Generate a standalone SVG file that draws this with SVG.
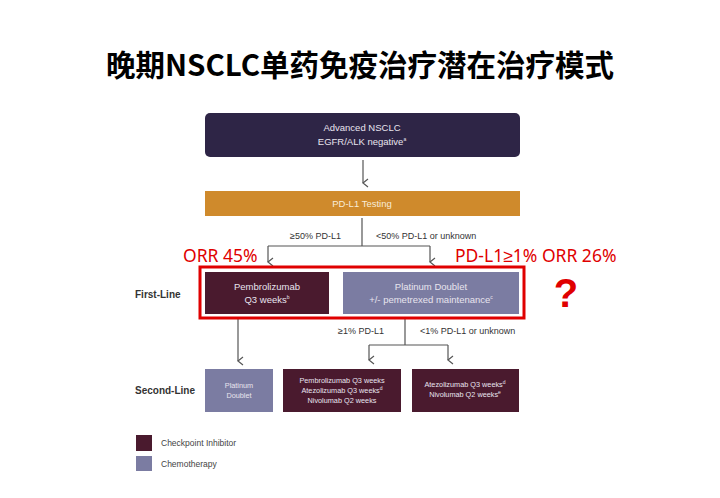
<svg xmlns="http://www.w3.org/2000/svg" width="720" height="498" viewBox="0 0 720 498">
<style>
.t{font-family:"Liberation Sans",Arial,sans-serif}
.w{fill:#e8e4ee;font-size:9.5px;text-anchor:middle}
.sm{font-size:7.3px}
.s{fill:#333;font-size:9px}
.lb{fill:#333;font-size:10px;font-weight:bold}
.r{fill:#e00000;font-family:"Noto Sans","Liberation Sans",sans-serif;font-size:17.5px}
.ci{fill:#4a1a2e}.ch{fill:#7b7ca2}
.ln{stroke:#555;stroke-width:1.2;fill:none}
</style>
<defs><marker id="a" markerWidth="10" markerHeight="10" refX="5" refY="8" orient="auto" markerUnits="userSpaceOnUse"><path d="M1,3 L5,8 L9,3" fill="none" stroke="#555" stroke-width="1.2"/></marker></defs>
<rect width="720" height="498" fill="#fff"/>
<text x="360" y="76" text-anchor="middle" font-family="'Noto Sans CJK SC',sans-serif" font-size="29.5" font-weight="bold" fill="#000">晚期NSCLC单药免疫治疗潜在治疗模式</text>
<g id="advanced"><rect x="205" y="113" width="315" height="44" rx="5" fill="#2e2546"/>
<text class="t w" x="362" y="131">Advanced NSCLC</text><text class="t w" x="362" y="145">EGFR/ALK negative<tspan font-size="5" dy="-4">a</tspan></text></g>
<g id="testing"><rect x="205" y="191" width="315" height="25" fill="#cf8a2c"/><text class="t w" x="362" y="207" style="fill:#f8ecd8">PD-L1 Testing</text></g>
<g id="pembro"><rect x="205" y="272" width="124" height="42" class="ci"/><text class="t w" x="267" y="290">Pembrolizumab</text><text class="t w" x="267" y="303">Q3 weeks<tspan font-size="5" dy="-4">b</tspan></text></g>
<g id="platinum1"><rect x="343" y="272" width="176" height="42" class="ch"/><text class="t w" x="431" y="290">Platinum Doublet</text><text class="t w" x="431" y="303">+/- pemetrexed maintenance<tspan font-size="5" dy="-4">c</tspan></text></g>
<g id="platinum2"><rect x="205" y="369" width="68" height="43" class="ch"/><text class="t w sm" x="239" y="388">Platinum</text><text class="t w sm" x="239" y="398">Doublet</text></g>
<g id="ici1"><rect x="283" y="369" width="118" height="43" class="ci"/><text class="t w sm" x="342" y="383">Pembrolizumab Q3 weeks</text><text class="t w sm" x="342" y="393">Atezolizumab Q3 weeks<tspan font-size="5" dy="-3">d</tspan></text><text class="t w sm" x="342" y="403">Nivolumab Q2 weeks</text></g>
<g id="ici2"><rect x="412" y="369" width="107" height="43" class="ci"/><text class="t w sm" x="465" y="387">Atezolizumab Q3 weeks<tspan font-size="5" dy="-3">d</tspan></text><text class="t w sm" x="465" y="397">Nivolumab Q2 weeks<tspan font-size="5" dy="-3">e</tspan></text></g>
<g id="connectors">
<path class="ln" d="M363,160 V183" marker-end="url(#a)"/>
<path class="ln" d="M362,218 V246 M268,246 H430"/>
<path class="ln" d="M268,246 V262" marker-end="url(#a)"/><path class="ln" d="M430,246 V262" marker-end="url(#a)"/>
<path class="ln" d="M238,318 V361" marker-end="url(#a)"/>
<path class="ln" d="M405,318 V345 M369,345 H448"/>
<path class="ln" d="M369,345 V360" marker-end="url(#a)"/><path class="ln" d="M448,345 V360" marker-end="url(#a)"/>
</g>
<g id="labels">
<text class="t s" x="290" y="239">≥50% PD-L1</text><text class="t s" x="376" y="239">&lt;50% PD-L1 or unknown</text>
<text class="t s" x="338" y="334">≥1% PD-L1</text><text class="t s" x="420" y="334">&lt;1% PD-L1 or unknown</text>
<text class="t lb" x="135" y="298">First-Line</text><text class="t lb" x="135" y="394">Second-Line</text>
</g>
<rect x="200" y="267" width="324" height="51" fill="none" stroke="#e00000" stroke-width="3"/>
<text class="r" x="183" y="262">ORR 45%</text>
<text class="r" x="455" y="262">PD-L1≥1% ORR 26%</text>
<text x="566" y="307" text-anchor="middle" font-family="'Liberation Sans',sans-serif" font-size="40" font-weight="bold" fill="#e00000">?</text>
<g id="legend"><rect x="136" y="435" width="16" height="16" class="ci"/><text class="t" x="161" y="446" font-size="8.5" fill="#444">Checkpoint Inhibitor</text>
<rect x="136" y="456" width="16" height="15" class="ch"/><text class="t" x="161" y="467" font-size="8.5" fill="#444">Chemotherapy</text></g>
</svg>
